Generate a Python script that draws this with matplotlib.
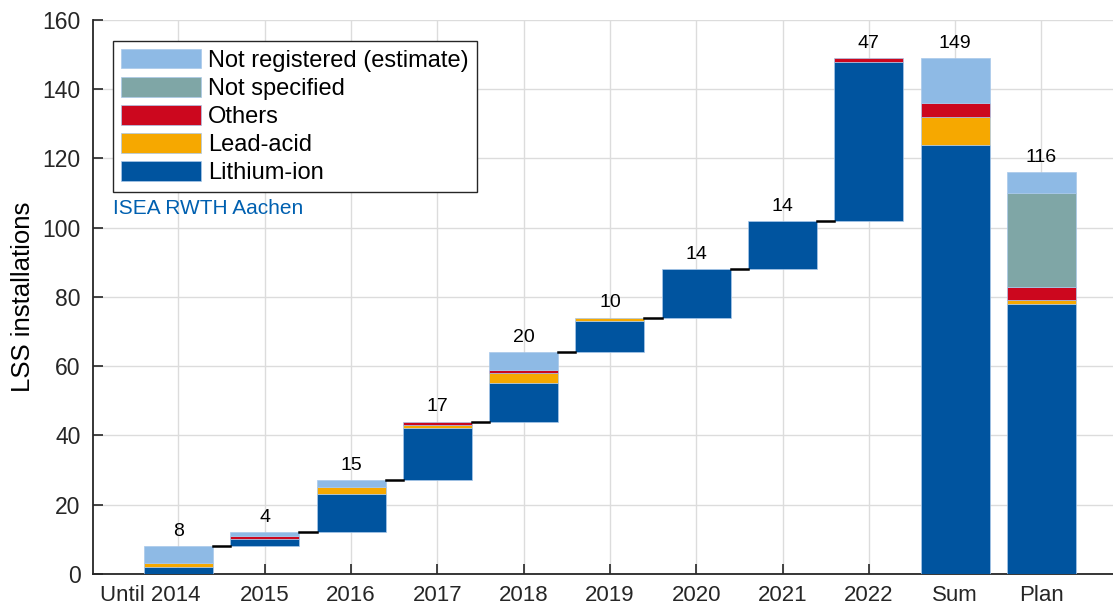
import numpy as np
import matplotlib.pyplot as plt
from matplotlib.transforms import ScaledTranslation

plt.rcParams['font.family'] = ['Liberation Sans', 'DejaVu Sans']

categories = ['Until 2014', '2015', '2016', '2017', '2018', '2019', '2020', '2021', '2022', 'Sum', 'Plan']
# yearly additions (until 2014 .. 2022)
lithium = [2, 2, 11, 15, 11, 9, 14, 14, 46]
lead = [1, 0, 2, 1, 3, 1, 0, 0, 0]
others = [0, 1, 0, 1, 1, 0, 0, 0, 1]
not_spec = [0, 0, 0, 0, 0, 0, 0, 0, 0]
not_reg = [5, 1, 2, 0, 5, 0, 0, 0, 0]
# planned installations
plan = {'lithium': 78, 'lead': 1, 'others': 4, 'not_spec': 27, 'not_reg': 6}

colors = {
    'lithium': '#00549f',
    'lead': '#f6a800',
    'others': '#cc071e',
    'not_spec': '#7fa6a6',
    'not_reg': '#8ebae5',
}
names = {
    'not_reg': 'Not registered (estimate)',
    'not_spec': 'Not specified',
    'others': 'Others',
    'lead': 'Lead-acid',
    'lithium': 'Lithium-ion',
}
order = ['lithium', 'lead', 'others', 'not_spec', 'not_reg']
series = {'lithium': lithium, 'lead': lead, 'others': others,
          'not_spec': not_spec, 'not_reg': not_reg}

fig, ax = plt.subplots(figsize=(11.13, 6.06), dpi=100)
fig.subplots_adjust(left=0.0836, right=1.0, top=0.967, bottom=0.053)

w = 0.8
edge = '#a9c8ea'
n_years = len(lithium)
totals = [sum(series[k][i] for k in order) for i in range(n_years)]
base = np.concatenate([[0], np.cumsum(totals)[:-1]])

handles = {}
for i in range(n_years):
    b = base[i]
    for k in order:
        v = series[k][i]
        if v > 0:
            handles[k] = ax.bar(i, v, w, bottom=b, color=colors[k], edgecolor=edge, linewidth=0.5, zorder=3)
        b += v
    ax.text(i, base[i] + totals[i] + 1.8, str(totals[i]), ha='center', va='bottom', fontsize=14)
    # step connector to next year
    if i < n_years - 1:
        ax.plot([i + w / 2, i + 1 - w / 2], [base[i] + totals[i]] * 2, color='black', lw=1.8, zorder=4)

# Sum bar
b = 0
for k in order:
    v = sum(series[k])
    if v > 0:
        ax.bar(9, v, w, bottom=b, color=colors[k], edgecolor=edge, linewidth=0.5, zorder=3)
    b += v
ax.text(9, b + 1.8, str(b), ha='center', va='bottom', fontsize=14)

# Plan bar
b = 0
for k in order:
    v = plan[k]
    handles[k] = ax.bar(10, v, w, bottom=b, color=colors[k], edgecolor=edge, linewidth=0.5, zorder=3)
    b += v
ax.text(10, b + 1.8, str(b), ha='center', va='bottom', fontsize=14)

ax.set_xlim(-0.99, 10.83)
ax.set_ylim(0, 160)
ax.set_xticks(range(len(categories)))
ax.set_xticklabels(categories, fontsize=16)
ax.set_yticks(range(0, 161, 20))
ax.tick_params(axis='y', labelsize=16.5, pad=9)
ax.tick_params(axis='x', pad=8)
ax.tick_params(direction='in', length=7, width=1.2, colors='#262626')
ax.set_ylabel('LSS installations', fontsize=18.5, labelpad=5)
ax.grid(True, color='#dcdcdc', lw=1, zorder=0)
ax.set_axisbelow(True)
for s in ['top', 'right']:
    ax.spines[s].set_visible(False)
for s in ['left', 'bottom']:
    ax.spines[s].set_linewidth(1.3)
    ax.spines[s].set_color('#262626')

# shift "Until 2014" so that the year sits under its tick
first = ax.get_xticklabels()[0]
first.set_transform(first.get_transform() + ScaledTranslation(-0.28, 0, fig.dpi_scale_trans))

leg_keys = ['not_reg', 'not_spec', 'others', 'lead', 'lithium']
leg = ax.legend([handles[k] for k in leg_keys], [names[k] for k in leg_keys],
                loc='upper left', bbox_to_anchor=(0.0196, 0.962), borderaxespad=0, fontsize=17,
                handlelength=3.4, handleheight=0.9, handletextpad=0.3, labelspacing=0.22,
                fancybox=False, edgecolor='#262626', framealpha=1, borderpad=0.33)
leg.get_frame().set_linewidth(1.0)
leg.set_zorder(5)

ax.text(0.0196, 0.659, 'ISEA RWTH Aachen', transform=ax.transAxes, color='#0060b0', fontsize=15, va='center')

fig.savefig('out.png', dpi=100)
